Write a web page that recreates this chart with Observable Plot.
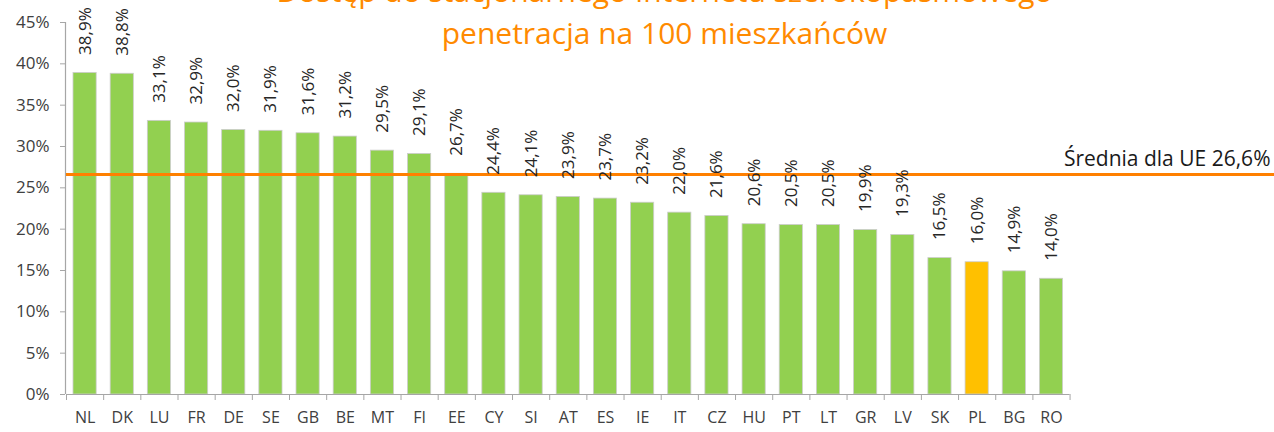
<!DOCTYPE html>
<html>
<head>
<meta charset="utf-8">
<script src="https://cdn.jsdelivr.net/npm/d3@7"></script>
<script src="https://cdn.jsdelivr.net/npm/@observablehq/plot@0.6"></script>
<style>
  html, body { margin: 0; padding: 0; background: #fff; }
  #chart svg { display: block; }
</style>
</head>
<body>
<div id="chart"></div>
<script>
const countries = ["NL","DK","LU","FR","DE","SE","GB","BE","MT","FI","EE","CY","SI","AT","ES","IE","IT","CZ","HU","PT","LT","GR","LV","SK","PL","BG","RO"];
const values = [38.9,38.8,33.1,32.9,32.0,31.9,31.6,31.2,29.5,29.1,26.7,24.4,24.1,23.9,23.7,23.2,22.0,21.6,20.6,20.5,20.5,19.9,19.3,16.5,16.0,14.9,14.0];
const highlight = "PL";
const euAverage = 26.6;
const averageLabel = "Średnia dla UE 26,6%";
const titleLines = ["Dostęp do stacjonarnego Internetu szerokopasmowego", "penetracja na 100 mieszkańców"];
const yTicks = [0,5,10,15,20,25,30,35,40,45];

const data = countries.map((c, i) => ({country: c, i, value: values[i]}));
const fmt = v => v.toFixed(1).replace(".", ",") + "%";
const n = countries.length;

const chart = Plot.plot({
  width: 1274,
  height: 432,
  marginLeft: 66,
  marginRight: 0,
  marginTop: 22,
  marginBottom: 38,
  style: {fontFamily: "'Open Sans', sans-serif", fontSize: "16px", background: "#fff", overflow: "visible"},
  x: {domain: [0, 32.5], axis: null},
  y: {domain: [0, 45], axis: null},
  marks: [
    Plot.rectY(data, {
      x1: d => d.i, x2: d => d.i + 1, y: "value",
      insetLeft: 7, insetRight: 7,
      fill: d => d.country === highlight ? "#FFC000" : "#92D050",
      stroke: "#cccccc", strokeWidth: 0.8
    }),
    Plot.ruleX([0], {y1: 0, y2: 45, stroke: "#a6a6a6", strokeWidth: 1.2, dx: -1}),
    Plot.ruleY([0], {x1: 0, x2: n, stroke: "#a6a6a6", strokeWidth: 1.2}),
    Plot.axisY({ticks: yTicks, label: null, tickSize: 5, tickPadding: 11, tickFormat: d => d + "%", stroke: "#a6a6a6", fill: "#404040", fontSize: 17, dx: -1}),
    Plot.axisX({ticks: d3.range(n + 1), label: null, tickSize: 6, tickFormat: () => "", stroke: "#a6a6a6"}),
    Plot.axisX({ticks: d3.range(n).map(i => i + 0.5), label: null, tickSize: 0, tickPadding: 17, tickFormat: v => countries[Math.floor(v)], fill: "#404040", fontSize: 16}),
    Plot.ruleY([euAverage], {stroke: "#FF8000", strokeWidth: 3}),
    Plot.text([averageLabel], {frameAnchor: "right", y: () => euAverage, text: d => d, textAnchor: "end", lineAnchor: "bottom", dx: -4, dy: -9, fontSize: 21, fill: "#1a1a1a"}),
    Plot.text(data, {
      x: d => d.i + 0.5, y: "value", text: d => fmt(d.value),
      rotate: -90, textAnchor: "start", lineAnchor: "middle",
      dy: -18, fontSize: 17, fill: "#262626"
    }),
    Plot.text([titleLines[0]], {frameAnchor: "top", text: d => d, textAnchor: "middle", lineAnchor: "bottom", dx: -6, dy: -21, fontSize: 30, fill: "#FF8A00"}),
    Plot.text([titleLines[1]], {frameAnchor: "top", text: d => d, textAnchor: "middle", lineAnchor: "bottom", dx: -6, dy: 21, fontSize: 30, fill: "#FF8A00"})
  ]
});
document.getElementById("chart").appendChild(chart);
</script>
</body>
</html>
